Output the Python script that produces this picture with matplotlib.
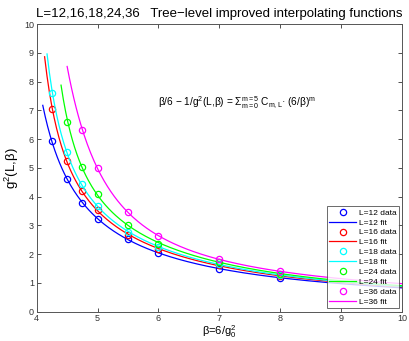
import numpy as np
import matplotlib.pyplot as plt

plt.rcParams['font.family'] = ['Liberation Sans', 'DejaVu Sans']
plt.rcParams['mathtext.fontset'] = 'custom'
plt.rcParams['mathtext.rm'] = 'Liberation Sans'
plt.rcParams['mathtext.it'] = 'Liberation Sans'
plt.rcParams['mathtext.bf'] = 'Liberation Sans:bold'

# lattice sizes and colours
sizes = [12, 16, 18, 24, 36]
colors = ['#0000ff', '#ff0000', '#00ffff', '#00ff00', '#ff00ff']

# beta values and g^2
beta_12 = [4.25, 4.5, 4.75, 5.0, 5.5, 6.0, 7.0, 8.0]
g2_12 = [5.93, 4.61, 3.78, 3.23, 2.51, 2.05, 1.49, 1.18]

beta_16 = [4.25, 4.5, 4.75, 5.0, 5.5, 6.0, 7.0, 8.0]
g2_16 = [7.03, 5.24, 4.20, 3.53, 2.66, 2.18, 1.61, 1.24]

beta_18 = [4.25, 4.5, 4.75, 5.0, 5.5, 6.0, 7.0, 8.0]
g2_18 = [7.59, 5.56, 4.43, 3.68, 2.76, 2.24, 1.66, 1.27]

beta_24 = [4.5, 4.75, 5.0, 5.5, 6.0, 7.0, 8.0]
g2_24 = [6.61, 5.03, 4.10, 3.01, 2.35, 1.74, 1.32]

beta_36 = [4.75, 5.0, 5.5, 6.0, 7.0, 8.0]
g2_36 = [6.32, 4.98, 3.46, 2.63, 1.82, 1.40]

# range over which each fit curve is drawn
fit_start = [4.1, 4.13, 4.17, 4.4, 4.5]
fit_end = 10.0

betas = [beta_12, beta_16, beta_18, beta_24, beta_36]
g2s = [g2_12, g2_16, g2_18, g2_24, g2_36]


def fit_curve(beta, g2, b0, b1, deg=3):
    """ beta/6 - 1/g^2 = sum_m c_m (6/beta)^m, fitted to the points """
    beta = np.asarray(beta)
    g2 = np.asarray(g2)
    c = np.polyfit(6.0 / beta, beta / 6.0 - 1.0 / g2, deg)
    bb = np.linspace(b0, b1, 300)
    return bb, 1.0 / (bb / 6.0 - np.polyval(c, 6.0 / bb))


fig = plt.figure(figsize=(4.09, 3.41), dpi=100)
ax = fig.add_axes([0.0897, 0.086, 0.8933, 0.8436])

for L, col, b, g, b0 in zip(sizes, colors, betas, g2s, fit_start):
    ax.plot(b, g, 'o', mfc='none', mec=col, ms=4.5, mew=0.9,
            label='L=%d data' % L)
    bb, gg = fit_curve(b, g, b0, fit_end)
    ax.plot(bb, gg, '-', color=col, lw=0.9, label='L=%d fit' % L)

ax.set_xlim(4, 10)
ax.set_ylim(0, 10)
ax.set_xticks(range(4, 11))
ax.set_yticks(range(0, 11))
ax.tick_params(direction='in', top=True, right=True, labelsize=6.5,
               length=3, width=0.6, colors='#333333', pad=2)
for s in ax.spines.values():
    s.set_linewidth(0.7)
    s.set_color('#555555')

ax.set_title('L=12,16,18,24,36   Tree\u2212level improved interpolating functions',
             fontsize=9.5, pad=5)
ax.set_ylabel('g$^2$(L,\u03b2)', fontsize=9.5, labelpad=2)
ax.set_xlabel('\u03b2=6/g$_0^2$', fontsize=8, labelpad=0)

ax.text(6.0, 7.26,
        '\u03b2/6 \u2212 1/g$^2$(L,\u03b2) = $\\Sigma_{m=0}^{m=5}$ C$_{m,L}$\u00b7 (6/\u03b2)$^m$',
        fontsize=7.3, va='center', ha='left')

leg = ax.legend(loc='lower right', fontsize=6, frameon=True, fancybox=False,
                edgecolor='#444444', handlelength=3.2, handletextpad=0.3,
                labelspacing=0.25, borderpad=0.3, borderaxespad=0.4)
leg.get_frame().set_linewidth(0.7)

fig.savefig('out.png', dpi=100)
